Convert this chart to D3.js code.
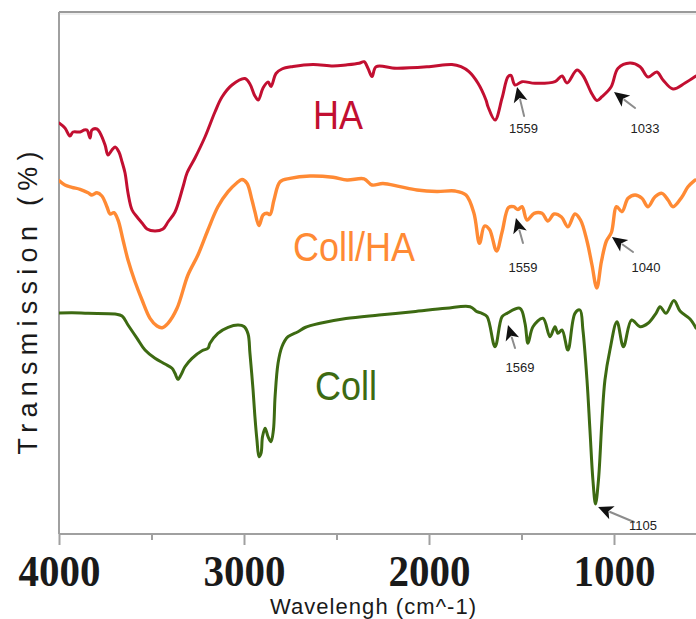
<!DOCTYPE html>
<html>
<head>
<meta charset="utf-8">
<script src="https://cdn.jsdelivr.net/npm/d3@7"></script>
<style>
  html, body { margin: 0; padding: 0; background: #fff; }
  svg { display: block; }
</style>
</head>
<body>
<svg id="chart" width="696" height="619"></svg>
<script>
// ---------------- DATA (wavenumber cm^-1, relative transmission) ----------------
const haSpectrum = [
  [4000,411],[3968,406],[3941,398],[3924,402],[3886,402],[3865,404],[3849,404],[3832,396],
  [3822,404],[3795,405],[3778,401],[3751,389],[3735,379],[3714,384],[3697,387],[3676,382],
  [3659,372],[3643,361],[3627,341],[3605,324],[3578,317],[3551,311],[3524,305],[3481,303],
  [3438,305],[3411,312],[3373,322],[3330,347],[3308,361],[3265,376],[3211,397],[3157,422],
  [3119,437],[3065,449],[2995,455.5],[2968,450],[2941,438],[2923,434],[2897,446],[2870,452],
  [2854,447.5],[2827,460.5],[2795,465],[2735,467.5],[2627,469.5],[2519,468],[2449,469],
  [2378,470.7],[2351,472.3],[2330,465.7],[2308,457.5],[2286,467.3],[2178,465.7],[2000,467.3],
  [1876,469.5],[1827,467.3],[1784,462.3],[1735,450.7],[1692,434],[1681,427.3],[1643,414],
  [1605,436],[1573,457.3],[1557,458.5],[1535,449],[1497,452.3],[1427,450.7],[1319,452.3],
  [1281,458],[1254,451],[1200,464],[1168,458.5],[1119,440],[1092,433.5],[1065,437.3],
  [1016,447],[978,465.7],[914,471],[859,467.3],[816,457],[768,462],[735,454],[681,445],
  [616,451],[557,458]
];

const collHaSpectrum = [
  [4000,353.5],[3968,349],[3930,346.7],[3886,344.7],[3843,341.3],[3822,339],[3795,341.3],
  [3768,338],[3741,327.3],[3724,320],[3703,321.3],[3681,314],[3654,294],[3627,274],
  [3589,252.3],[3551,234],[3508,215.7],[3470,208],[3443,206.3],[3411,210.7],[3362,225.7],
  [3303,259],[3249,279],[3195,304],[3141,327.3],[3086,342.3],[3038,351.3],[3011,354.5],
  [2984,350.7],[2957,334],[2941,322.3],[2919,308.5],[2897,319],[2876,320.7],[2859,319.5],
  [2838,334],[2805,352.3],[2751,355.7],[2643,358],[2519,356.7],[2443,354],[2351,355.2],
  [2308,349],[2249,350.5],[2157,347.3],[2065,344],[1957,342.5],[1859,343],[1800,339],
  [1757,320.7],[1727,290.7],[1700,308],[1673,304.5],[1635,283],[1605,302],[1570,326.5],
  [1543,327.3],[1519,324.5],[1497,327.3],[1470,314],[1432,320.7],[1389,320.7],[1357,313],
  [1324,320],[1284,317],[1249,307.3],[1211,320],[1181,314],[1146,293],[1119,269],
  [1093,246],[1068,272.5],[1041,293],[1014,301.5],[986,327.3],[957,322.3],[924,335.7],
  [886,339],[849,335.7],[816,327.3],[778,337.3],[741,340.7],[708,334],[681,327.3],
  [632,337.3],[600,347.3],[562,354]
];

const collSpectrum = [
  [4000,221],[3930,221.3],[3843,220.7],[3697,220],[3659,218],[3627,209],[3578,195.7],
  [3535,184],[3481,175.7],[3427,170],[3389,165.7],[3373,160.7],[3357,154.7],[3341,159],
  [3319,167.3],[3281,175.7],[3227,183.3],[3195,185.7],[3184,190.7],[3141,200.7],[3086,206.7],
  [3032,209],[3000,207.5],[2978,200],[2968,181],[2951,144],[2941,117.3],[2930,94],
  [2919,77.3],[2908,80.7],[2900,97.3],[2886,105.7],[2870,97.3],[2854,92.3],[2841,104],
  [2832,137.3],[2816,170.7],[2795,187.3],[2762,197.3],[2708,202.3],[2670,206.5],[2589,210.7],
  [2449,215.5],[2270,219],[2086,222.3],[1908,225.7],[1778,227.3],[1741,222.3],[1714,220.7],
  [1686,217.3],[1643,187.3],[1605,217.3],[1578,220.7],[1508,225.7],[1481,210.7],[1465,190.7],
  [1438,207.3],[1384,215.7],[1346,197.3],[1319,207.3],[1303,200.7],[1281,204],[1249,184],
  [1211,220.7],[1184,224],[1168,204],[1146,154],[1130,104],[1114,54],[1100,30],[1084,54],
  [1065,114],[1049,154],[1022,184],[984,212.3],[949,187.3],[905,214],[859,207.3],[816,210.7],
  [773,220.7],[751,227.3],[719,220.7],[676,233.5],[643,223],[589,215],[557,206]
];

const seriesNames = ["HA", "Coll/HA", "Coll"];
const seriesLabelAt = [[2492,405],[2405,273],[2449,134]];   // label anchor (wn, value)

const majorTicks = [4000, 3000, 2000, 1000];
const minorTicks = [3500, 2500, 1500];

// peak annotations: label, arrow tip (wn,val), arrow tail (wn,val), label anchor (wn,val)
const peakLabels = ["1559", "1033", "1559", "1040", "1569", "1105"];
const peakTips   = [[1524,447],[1000,442],[1530,316],[1011,297],[1573,209],[1086,27]];
const peakTails  = [[1486,418],[886,426],[1492,291],[897,282],[1535,186],[892,12]];
const peakText   = [[1489,401],[832,401],[1492,262],[827,262],[1508,162],[843,4]];

// ---------------- LAYOUT / STYLE ----------------
const W = 696, H = 619;
const pL = 59, pT = 12, pB = 534, pR = 696;
const colors = ["#c20f31", "#ff8a34", "#3d6a12"];
const widths = [3, 3.4, 3];

const svg = d3.select("#chart");
svg.append("rect").attr("width", W).attr("height", H).attr("fill", "#fff");

const x = d3.scaleLinear().domain([4000, 1000]).range([pL, 614]);
const y = d3.scaleLinear().domain([0, 522]).range([pB, pT]);

svg.append("defs").append("clipPath").attr("id", "plotclip")
  .append("rect").attr("x", pL).attr("y", pT - 5).attr("width", pR - pL).attr("height", pB - pT + 5);

// frame (top & left)
svg.append("line").attr("x1", pL).attr("x2", pR).attr("y1", pT).attr("y2", pT)
  .attr("stroke", "#9a9a9a").attr("stroke-width", 2);
svg.append("line").attr("x1", pL).attr("x2", pR).attr("y1", pT + 2).attr("y2", pT + 2)
  .attr("stroke", "#dcdcdc").attr("stroke-width", 1);
svg.append("line").attr("x1", pL).attr("x2", pL).attr("y1", pT).attr("y2", pB)
  .attr("stroke", "#a0a0a0").attr("stroke-width", 2);

// x axis
const gx = svg.append("g").attr("transform", `translate(0,${pB})`)
  .call(d3.axisBottom(x).tickValues(majorTicks).tickSize(11).tickSizeOuter(0).tickFormat(d3.format("d")));
gx.select(".domain").attr("stroke", "#a0a0a0").attr("stroke-width", 2)
  .attr("d", `M${pL},0H${pR}`);
gx.selectAll(".tick line").attr("stroke", "#a0a0a0").attr("stroke-width", 2);
gx.selectAll(".tick text")
  .attr("y", 0).attr("dy", 0)
  .attr("transform", "translate(0,52) scale(1,1.1)")
  .attr("fill", "#1a1a1a")
  .style("font-family", "'Liberation Serif','DejaVu Serif',serif")
  .style("font-weight", "bold")
  .style("font-size", "41px");

const gm = svg.append("g").attr("transform", `translate(0,${pB})`)
  .call(d3.axisBottom(x).tickValues(minorTicks).tickSize(6).tickFormat(""));
gm.select(".domain").remove();
gm.selectAll(".tick line").attr("stroke", "#a0a0a0").attr("stroke-width", 2);

// axis titles
svg.append("text")
  .attr("x", 373).attr("y", 614)
  .attr("text-anchor", "middle")
  .attr("textLength", 206).attr("lengthAdjust", "spacing")
  .style("font-family", "Arial, 'Liberation Sans', sans-serif")
  .style("font-size", "22px").attr("fill", "#1a1a1a")
  .text("Wavelengh (cm^-1)");

svg.append("text")
  .attr("transform", "translate(37,303) rotate(-90)")
  .attr("text-anchor", "middle")
  .attr("textLength", 303).attr("lengthAdjust", "spacing")
  .style("font-family", "Arial, 'Liberation Sans', sans-serif")
  .style("font-size", "27px").attr("fill", "#1a1a1a")
  .text("Transmission (%)");

// spectra
const line = d3.line()
  .x(d => x(d[0])).y(d => y(d[1]))
  .curve(d3.curveCatmullRom.alpha(0.5));

const plot = svg.append("g").attr("clip-path", "url(#plotclip)");
[haSpectrum, collHaSpectrum, collSpectrum].forEach((s, i) => {
  plot.append("path").datum(s)
    .attr("d", line)
    .attr("fill", "none")
    .attr("stroke", colors[i])
    .attr("stroke-width", widths[i])
    .attr("stroke-linejoin", "round")
    .attr("stroke-linecap", "round");
});

// series labels
seriesNames.forEach((name, i) => {
  svg.append("text")
    .attr("transform", `translate(${x(seriesLabelAt[i][0])},${y(seriesLabelAt[i][1])}) scale(1,1.12)`)
    .attr("text-anchor", "middle")
    .style("font-family", "Arial, 'Liberation Sans', sans-serif")
    .style("font-size", "36px")
    .attr("fill", colors[i])
    .text(name);
});

// peak annotations
peakLabels.forEach((lab, i) => {
  const tx = x(peakTips[i][0]), ty = y(peakTips[i][1]);
  const ex = x(peakTails[i][0]), ey = y(peakTails[i][1]);
  const dx = ex - tx, dy = ey - ty, len = Math.hypot(dx, dy);
  const ux = dx / len, uy = dy / len;
  const px = -uy, py = ux;
  const headL = 15, headW = 7;
  svg.append("line")
    .attr("x1", tx + ux * (headL - 2)).attr("y1", ty + uy * (headL - 2))
    .attr("x2", ex).attr("y2", ey)
    .attr("stroke", "#8c8c8c").attr("stroke-width", 2).attr("stroke-linecap", "round");
  const bx = tx + ux * headL, by = ty + uy * headL;
  const nx = tx + ux * (headL * 0.75), ny = ty + uy * (headL * 0.75);
  svg.append("path")
    .attr("d", `M${tx},${ty}L${bx + px * headW},${by + py * headW}L${nx},${ny}L${bx - px * headW},${by - py * headW}Z`)
    .attr("fill", "#111");
  svg.append("text")
    .attr("x", x(peakText[i][0])).attr("y", y(peakText[i][1]))
    .attr("text-anchor", "middle")
    .style("font-family", "Arial, 'Liberation Sans', sans-serif")
    .style("font-size", "13px")
    .attr("fill", "#222")
    .text(lab);
});
</script>
</body>
</html>
